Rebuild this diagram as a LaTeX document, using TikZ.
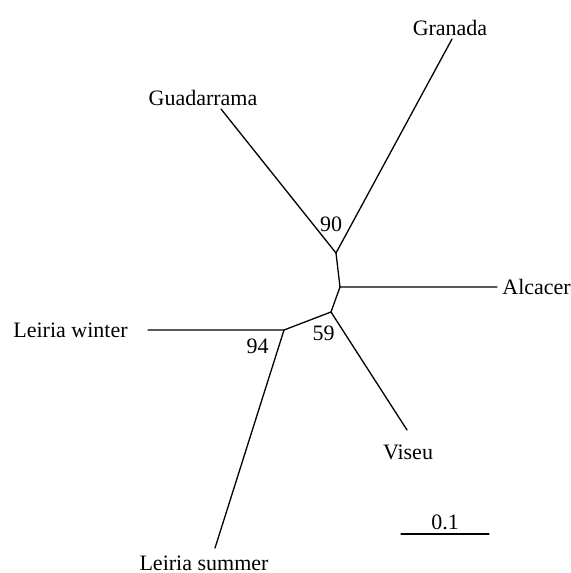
\documentclass[tikz,border=0pt]{standalone}
\usepackage{fontspec}
\setmainfont{Liberation Serif}
\begin{document}
\begin{tikzpicture}[x=0.5pt,y=-0.5pt,
  branch/.style={line width=0.65pt,line cap=round},
  lbl/.style={inner sep=0pt,font=\fontsize{11}{13}\selectfont}]
\useasboundingbox (0,0) rectangle (571,573);
% internal nodes
\coordinate (A) at (336,253);
\coordinate (B) at (340,287);
\coordinate (C) at (331,312);
\coordinate (D) at (284,330);
% tips
\coordinate (tGua) at (221,109);
\coordinate (tGra) at (452,39);
\coordinate (tAlc) at (497,287);
\coordinate (tVis) at (407,430);
\coordinate (tLW) at (148,330);
\coordinate (tLS) at (215,548);
\coordinate (s1) at (401,534);
\coordinate (s2) at (489,534);
\draw[branch] (tGua) -- (A) -- (tGra);
\draw[branch] (A) -- (B) -- (tAlc);
\draw[branch] (B) -- (C) -- (tVis);
\draw[branch] (C) -- (D) -- (tLW);
\draw[branch] (D) -- (tLS);
\draw[branch] (s1) -- (s2);
% labels
\node[lbl,anchor=base] (gra) at (450,35) {Granada};
\node[lbl,anchor=base] (gua) at (203,105) {Guadarrama};
\node[lbl,anchor=base west] (alc) at (502,294) {Alcacer};
\node[lbl,anchor=base east] (lw) at (128,337) {Leiria winter};
\node[lbl,anchor=base] (vis) at (408,459) {Viseu};
\node[lbl,anchor=base] (ls) at (204,570.5) {Leiria summer};
\node[lbl,anchor=base] (b90) at (331,231.5) {90};
\node[lbl,anchor=base] (b59) at (323.5,340.5) {59};
\node[lbl,anchor=base] (b94) at (257.5,353) {94};
\node[lbl,anchor=base] (sc) at (445,529) {0.1};
\end{tikzpicture}
\end{document}
